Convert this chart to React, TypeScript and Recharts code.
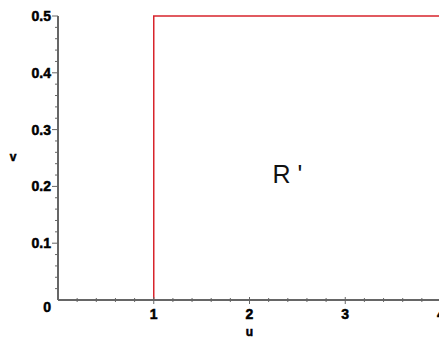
import React from 'react';
import { LineChart, Line, XAxis, YAxis, ReferenceDot } from 'recharts';

const pathU = [1, 1, 4];
const pathV = [0, 0.5, 0.5];
const xMajor = [1, 2, 3, 4];
const yMajor = [0, 0.1, 0.2, 0.3, 0.4, 0.5];
const xTicks = Array.from({ length: 21 }, (_, i) => Math.round(i * 2) / 10);
const yTicks = Array.from({ length: 26 }, (_, i) => Math.round(i * 2) / 100);
const regionLabel = { u: 2.24, v: 0.206, text: "R '" };

const data = pathU.map((u, i) => ({ u, v: pathV[i] }));

const FONT = '"Liberation Sans", Arial, sans-serif';
const AXIS = '#666666';
const HEAVY = { stroke: '#000', strokeWidth: 0.5 };

const isMajor = (v: number, list: number[]) => list.some((m) => Math.abs(m - v) < 1e-9);

const XTick = (props: any) => {
  const { x, y, payload } = props;
  const v = payload.value as number;
  const major = isMajor(v, xMajor);
  if (v === 0) return <g />;
  return (
    <g>
      <line x1={x} x2={x} y1={major ? y - 3 : y - 2} y2={major ? y + 4 : y + 2} stroke={AXIS} strokeWidth={1} />
      {major && (
        <text x={x} y={y + 19} textAnchor="middle" fontFamily={FONT} fontWeight="bold" fontSize={14} fill="#000" {...HEAVY}>
          {String(v)}
        </text>
      )}
    </g>
  );
};

const YTick = (props: any) => {
  const { x, y, payload } = props;
  const v = payload.value as number;
  const major = isMajor(v, yMajor);
  if (v === 0) {
    return (
      <text x={x - 7} y={y + 12} textAnchor="end" fontFamily={FONT} fontWeight="bold" fontSize={14} fill="#000" {...HEAVY}>
        0
      </text>
    );
  }
  return (
    <g>
      <line x1={major ? x - 6 : x - 3} x2={x} y1={y} y2={y} stroke={AXIS} strokeWidth={1} />
      {major && (
        <text x={x - 7} y={y} dy="0.36em" textAnchor="end" fontFamily={FONT} fontWeight="bold" fontSize={14} fill="#000" {...HEAVY}>
          {String(v)}
        </text>
      )}
    </g>
  );
};

export default function App() {
  return (
    <div style={{ position: 'absolute', left: 0, top: 0, width: 439, height: 340, overflow: 'hidden', background: '#fff' }}>
      <LineChart width={460} height={340} data={data} margin={{ top: 16, right: 19, bottom: 0, left: 0 }}>
        <XAxis
          dataKey="u"
          type="number"
          domain={[0, 4]}
          ticks={xTicks}
          interval={0}
          tick={<XTick />}
          tickLine={false}
          tickSize={0}
          tickMargin={0}
          height={40}
          axisLine={{ stroke: AXIS, strokeWidth: 2 }}
          label={{
            content: (p: any) => (
              <text
                x={p.viewBox.x + p.viewBox.width / 2}
                y={p.viewBox.y + 36}
                textAnchor="middle"
                fontFamily={FONT}
                fontWeight="bold"
                fontSize={12}
                fill="#000"
                {...HEAVY}
              >
                u
              </text>
            ),
          }}
        />
        <YAxis
          type="number"
          domain={[0, 0.5]}
          ticks={yTicks}
          interval={0}
          tick={<YTick />}
          tickLine={false}
          tickSize={0}
          tickMargin={0}
          width={58}
          axisLine={{ stroke: AXIS, strokeWidth: 2 }}
          label={{
            content: (p: any) => (
              <text
                x={13}
                y={p.viewBox.y + p.viewBox.height / 2 + 3}
                textAnchor="middle"
                fontFamily={FONT}
                fontWeight="bold"
                fontSize={12}
                fill="#000"
                {...HEAVY}
              >
                v
              </text>
            ),
          }}
        />
        <Line
          dataKey="v"
          type="linear"
          stroke="#d8242c"
          strokeWidth={1.5}
          dot={false}
          isAnimationActive={false}
        />
        <ReferenceDot
          x={regionLabel.u}
          y={regionLabel.v}
          r={0}
          shape={(p: any) => (
            <text x={p.cx} y={p.cy} textAnchor="start" fontFamily={FONT} fontSize={25} fill="#111">
              {regionLabel.text}
            </text>
          )}
        />
      </LineChart>
    </div>
  );
}
